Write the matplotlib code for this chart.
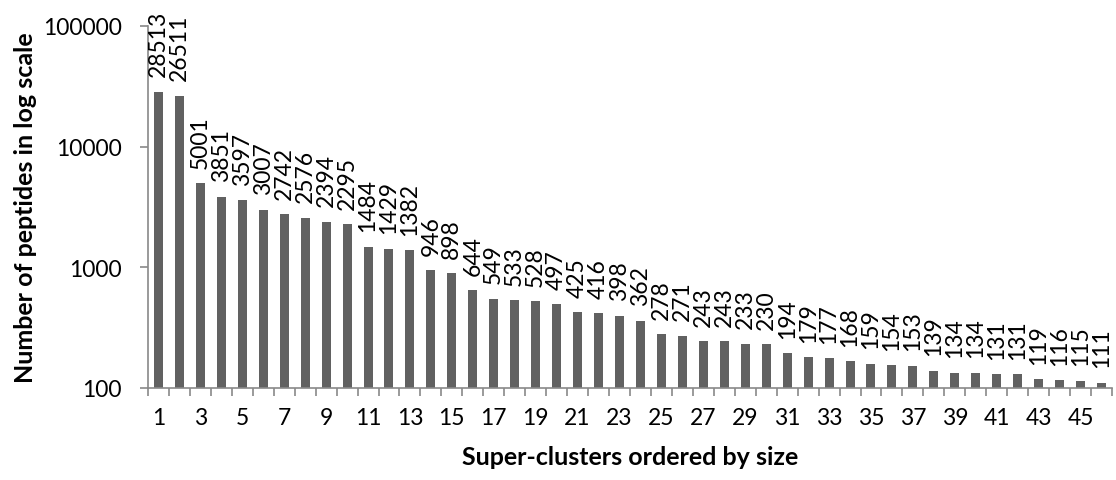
import numpy as np
import matplotlib.pyplot as plt
from matplotlib.ticker import FixedLocator, NullLocator

plt.rcParams['font.family'] = ['Lato', 'DejaVu Sans']

# peptides per super-cluster, largest first
sizes = [28513, 26511, 5001, 3851, 3597, 3007, 2742, 2576, 2394, 2295,
         1484, 1429, 1382, 946, 898, 644, 549, 533, 528, 497,
         425, 416, 398, 362, 278, 271, 243, 243, 233, 230,
         194, 179, 177, 168, 159, 154, 153, 139, 134, 134,
         131, 131, 119, 116, 115, 111]
clusters = list(range(1, len(sizes) + 1))
y_ticks = [100, 1000, 10000, 100000]

axis_col = '#898989'
bar_col = '#616161'
fs = 16.5

fig = plt.figure(figsize=(11.16, 4.81), dpi=100)
ax = fig.add_axes([0.1326, 0.1913, 0.8638, 0.7526])

x = np.arange(len(sizes))
ax.bar(x, sizes, width=0.43, color=bar_col)
ax.set_yscale('log')
ax.set_ylim(100, 100000)
ax.set_xlim(-0.5, len(sizes) - 0.5)

for xi, v in zip(x, sizes):
    ax.annotate(str(v), (xi, v), xytext=(0, 11), textcoords='offset points',
                rotation=90, ha='center', va='bottom', fontsize=fs, color='black')

ax.yaxis.set_major_locator(FixedLocator(y_ticks))
ax.yaxis.set_minor_locator(NullLocator())
ax.set_yticklabels([str(t) for t in y_ticks], fontsize=fs)
ax.tick_params(axis='y', length=6, width=1.2, color=axis_col, pad=13)

# tick marks sit between categories, labels on every other category
ax.xaxis.set_major_locator(FixedLocator(np.arange(-0.5, len(sizes), 1)))
ax.xaxis.set_minor_locator(FixedLocator(x[::2]))
ax.set_xticklabels([])
ax.set_xticklabels([str(c) for c in clusters[::2]], minor=True, fontsize=fs)
ax.tick_params(axis='x', which='major', length=6, width=1.2, color=axis_col)
ax.tick_params(axis='x', which='minor', length=0, pad=14)

for side in ['top', 'right']:
    ax.spines[side].set_visible(False)
for side in ['left', 'bottom']:
    ax.spines[side].set_color(axis_col)
    ax.spines[side].set_linewidth(1.2)

ax.set_ylabel('Number of peptides in log scale', fontsize=18, fontweight='bold', labelpad=4)
ax.set_xlabel('Super-clusters ordered by size', fontsize=18, fontweight='bold', labelpad=12)

fig.savefig('out.png', dpi=100)
